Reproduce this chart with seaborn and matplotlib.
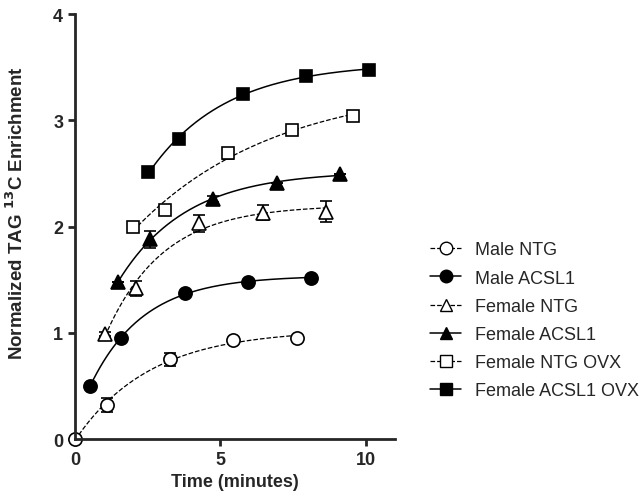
import numpy as np
import matplotlib
matplotlib.use('Agg')
import matplotlib.pyplot as plt
import seaborn as sns
from matplotlib.lines import Line2D

# data (time in minutes, normalized enrichment, SEM)
male_ntg_x = [0.0, 1.09, 3.26, 5.43, 7.62]
male_ntg_y = [0.0, 0.32, 0.75, 0.93, 0.95]
male_ntg_err = [0.0, 0.07, 0.06, 0.02, 0.02]

male_acsl1_x = [0.52, 1.58, 3.77, 5.96, 8.13]
male_acsl1_y = [0.50, 0.95, 1.37, 1.48, 1.52]
male_acsl1_err = [0.0, 0.0, 0.0, 0.0, 0.0]

female_ntg_x = [1.03, 2.10, 4.27, 6.45, 8.63]
female_ntg_y = [0.99, 1.42, 2.03, 2.13, 2.14]
female_ntg_err = [0.02, 0.07, 0.08, 0.07, 0.10]

female_acsl1_x = [1.49, 2.58, 4.75, 6.93, 9.10]
female_acsl1_y = [1.48, 1.88, 2.26, 2.41, 2.49]
female_acsl1_err = [0.0, 0.08, 0.03, 0.0, 0.0]

female_ntg_ovx_x = [2.00, 3.09, 5.27, 7.45, 9.56]
female_ntg_ovx_y = [2.00, 2.16, 2.69, 2.91, 3.04]
female_ntg_ovx_err = [0.0, 0.0, 0.05, 0.02, 0.0]

female_acsl1_ovx_x = [2.52, 3.57, 5.76, 7.93, 10.11]
female_acsl1_ovx_y = [2.51, 2.82, 3.25, 3.42, 3.47]
female_acsl1_ovx_err = [0.0, 0.0, 0.0, 0.0, 0.0]

labels = ['Male NTG', 'Male ACSL1', 'Female NTG', 'Female ACSL1',
          'Female NTG OVX', 'Female ACSL1 OVX']

series = [
    (male_ntg_x, male_ntg_y, male_ntg_err, 'o', False, '--'),
    (male_acsl1_x, male_acsl1_y, male_acsl1_err, 'o', True, '-'),
    (female_ntg_x, female_ntg_y, female_ntg_err, '^', False, '--'),
    (female_acsl1_x, female_acsl1_y, female_acsl1_err, '^', True, '-'),
    (female_ntg_ovx_x, female_ntg_ovx_y, female_ntg_ovx_err, 's', False, '--'),
    (female_acsl1_ovx_x, female_acsl1_ovx_y, female_acsl1_ovx_err, 's', True, '-'),
]


def fit_one_phase(x, y):
    # Y = Y0*exp(-Kx) + Plateau*(1-exp(-Kx)), grid over K, least squares for the rest
    x = np.asarray(x)
    y = np.asarray(y)
    best = None
    for k in np.linspace(0.05, 3, 600):
        e = np.exp(-k * x)
        A = np.column_stack([e, 1 - e])
        coef, *_ = np.linalg.lstsq(A, y, rcond=None)
        r = np.sum((A @ coef - y) ** 2)
        if best is None or r < best[0]:
            best = (r, k, coef)
    _, k, (y0, p) = best
    xs = np.linspace(x.min(), x.max(), 200)
    return xs, y0 * np.exp(-k * xs) + p * (1 - np.exp(-k * xs))


sns.set_style('ticks')
plt.rcParams['font.family'] = ['Liberation Sans', 'DejaVu Sans']

fig = plt.figure(figsize=(6.42, 5.02), dpi=100)
ax = fig.add_axes([0.1168, 0.1235, 0.4984, 0.8466])

handles = []
for (x, y, err, mk, filled, ls), lab in zip(series, labels):
    xs, ys = fit_one_phase(x, y)
    sns.lineplot(x=xs, y=ys, ax=ax, color='black', linestyle=ls,
                 linewidth=1.1 if ls == '-' else 0.9, sort=False, clip_on=False)
    ms = 9.5 if mk != 's' else 9
    ax.errorbar(x, y, yerr=err, fmt=mk, color='black', ms=ms,
                mfc='black' if filled else 'white', mec='black', mew=1.2,
                ecolor='black', elinewidth=1.2, capsize=4.5, capthick=1.2,
                clip_on=False, zorder=3)
    handles.append(Line2D([], [], color='black', linestyle=ls,
                          linewidth=1.1 if ls == '-' else 0.9,
                          marker=mk, ms=ms * 0.95,
                          mfc='black' if filled else 'white', mec='black', mew=1.0))

ax.set_xlim(0, 11)
ax.set_ylim(0, 4)
ax.set_xticks([0, 5, 10])
ax.set_yticks([0, 1, 2, 3, 4])
sns.despine(ax=ax)
for s in ['left', 'bottom']:
    ax.spines[s].set_linewidth(2)
    ax.spines[s].set_zorder(5)
ax.tick_params(width=2, length=5, labelsize=13, direction='out')
for t in ax.get_xticklabels() + ax.get_yticklabels():
    t.set_fontweight('bold')

ax.set_xlabel('Time (minutes)', fontsize=13, fontweight='bold')
ax.set_ylabel('Normalized TAG $\\mathbf{^{13}}$C Enrichment', fontsize=13.5,
              fontweight='bold')
ax.yaxis.set_label_coords(-0.15, 0.534)

fig.legend(handles, labels, loc='upper left', bbox_to_anchor=(0.656, 0.535),
           frameon=False, fontsize=13, handlelength=1.7, handletextpad=0.8,
           labelspacing=0.62, borderpad=0)

fig.savefig('out.png', dpi=100)
